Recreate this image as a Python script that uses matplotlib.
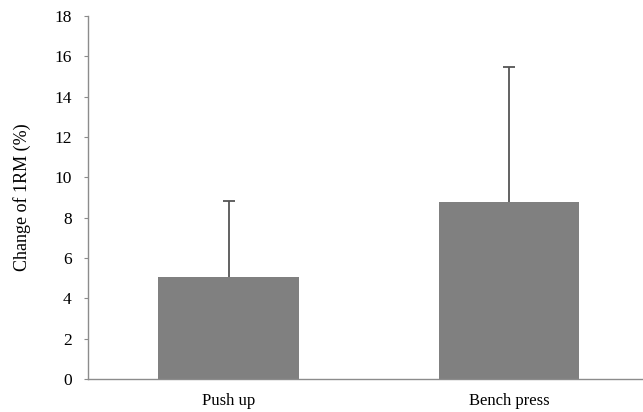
import numpy as np
import matplotlib.pyplot as plt

plt.rcParams['font.family'] = ['Liberation Serif', 'DejaVu Serif']

# data
categories = ['Push up', 'Bench press']
means = [5.07, 8.79]
sds = [3.77, 6.66]

fig = plt.figure(figsize=(6.43, 4.12), dpi=100)
ax = fig.add_axes([0.1375, 0.080, 0.861, 0.881])

x = np.arange(len(categories))
ax.bar(x, means, width=0.5, color='#808080', zorder=2)
eb = ax.errorbar(x, means, yerr=[np.zeros(len(sds)), sds], fmt='none',
                 ecolor='#555555', elinewidth=1.3, capsize=4, capthick=1.3,
                 zorder=3)
# only the upper cap is shown
eb[1][0].set_visible(False)

ax.set_xlim(-0.5, 1.475)
ax.set_ylim(0, 18)
ax.set_yticks(np.arange(0, 19, 2))
ax.set_xticks(x)
ax.set_xticklabels(categories)

for s in ['top', 'right']:
    ax.spines[s].set_visible(False)
for s in ['left', 'bottom']:
    ax.spines[s].set_color('#8c8c8c')
    ax.spines[s].set_linewidth(1.0)

ax.tick_params(axis='y', direction='out', length=3, color='#8c8c8c',
               labelsize=12.5, pad=9)
ax.tick_params(axis='x', length=0, labelsize=12, pad=10)
ax.set_ylabel('Change of 1RM (%)', fontsize=13, labelpad=17)

plt.savefig('out.png', dpi=100)
plt.close()
